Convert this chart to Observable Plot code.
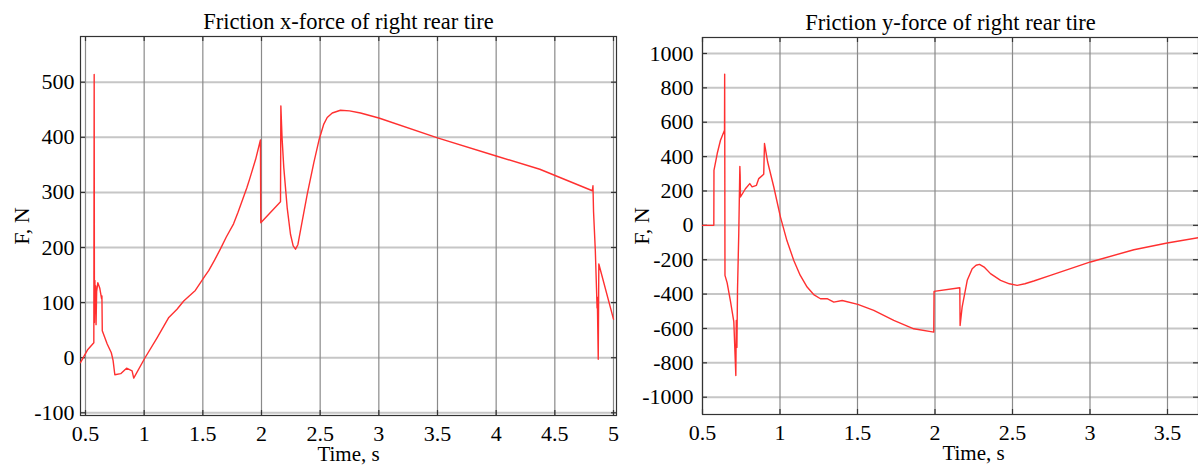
<!DOCTYPE html>
<html>
<head>
<meta charset="utf-8">
<script src="https://cdn.jsdelivr.net/npm/d3@7"></script>
<script src="https://cdn.jsdelivr.net/npm/@observablehq/plot@0.6"></script>
<style>
  html, body { margin: 0; padding: 0; background: #fff; }
  #wrap { position: relative; width: 1198px; height: 467px; overflow: hidden; }
  #left { position: absolute; left: 0; top: 0; }
  #right { position: absolute; left: 620px; top: 0; }
  svg { overflow: visible; }
  svg, svg text, svg g { font-family: "Liberation Serif", "Times New Roman", serif !important; font-variant: normal !important; font-variant-numeric: normal !important; }
</style>
</head>
<body>
<div id="wrap"><div id="left"></div><div id="right"></div></div>
<script>
// ---- Left panel: Friction x-force (time in s, force in N)
const leftTitle = "Friction x-force of right rear tire";
const leftTime = [0.457,0.52,0.571,0.574,0.576,0.58,0.583,0.587,0.59,0.595,0.605,0.622,0.637,0.64,0.643,0.685,0.72,0.735,0.75,0.80,0.85,0.897,0.911,1.005,1.11,1.21,1.28,1.337,1.436,1.52,1.55,1.6,1.649,1.7,1.762,1.8,1.876,1.9,1.95,1.991,1.994,2.162,2.165,2.175,2.19,2.219,2.247,2.27,2.29,2.31,2.347,2.39,2.446,2.49,2.531,2.56,2.603,2.673,2.75,2.844,3.0,3.5,4.0,4.372,4.82,4.825,4.83,4.845,4.855,4.86,4.862,4.87,4.875,5.0];
const leftForce = [-9,15,27,514,64,140,80,130,60,120,136,126,107,112,49,25,9,-5,-31,-29,-19,-24,-37,-1,36,73,88,103,122,149,158,177,197,219,243,264,309,325,360,395,245,283,457,400,345,272,224,203,197,205,248,297,354,395,424,436,444,449,448,444,435,399,366,342,303,312,265,195,127,90,110,-3,170,70];
const leftXTicks = [0.5,1,1.5,2,2.5,3,3.5,4,4.5,5];
const leftYTicks = [-100,0,100,200,300,400,500];

// ---- Right panel: Friction y-force
const rightTitle = "Friction y-force of right rear tire";
const rightTime = [0.5,0.573,0.574,0.595,0.616,0.642,0.643,0.645,0.659,0.68,0.702,0.715,0.718,0.722,0.726,0.734,0.741,0.743,0.745,0.777,0.805,0.82,0.848,0.863,0.895,0.9,0.905,0.92,0.96,1.003,1.045,1.089,1.13,1.175,1.22,1.261,1.304,1.347,1.401,1.502,1.605,1.734,1.863,1.992,1.994,2.16,2.162,2.175,2.208,2.24,2.265,2.287,2.32,2.358,2.423,2.48,2.53,2.58,2.637,2.745,3.003,3.283,3.498,3.7];
const rightForce = [0,0,320,418,495,553,880,-291,-335,-440,-560,-874,-553,-710,-369,-48,343,290,165,213,243,224,233,272,297,476,450,370,223,48,-90,-204,-290,-359,-405,-427,-427,-447,-437,-460,-495,-553,-602,-621,-384,-363,-583,-476,-320,-252,-232,-227,-245,-281,-320,-340,-349,-340,-324,-291,-213,-142,-103,-72];
const rightXTicks = [0.5,1,1.5,2,2.5,3,3.5];
const rightYTicks = [-1000,-800,-600,-400,-200,0,200,400,600,800,1000];

const xLabel = "Time, s";
const yLabel = "F, N";

const font = "Liberation Serif, Times New Roman, serif";

function panel({time, force, title, xTicks, yTicks, xDomain, yDomain, width, mL, mR, mT, mB, yPad, yLabOff, xLabDx}) {
  const data = time.map((t, i) => ({t, f: force[i]}));
  const fh = 467 - mT - mB, fw = width - mL - mR;
  const tick = {stroke: "#333", strokeWidth: 1.2};
  return Plot.plot({
    width, height: 467,
    marginLeft: mL, marginRight: mR, marginTop: mT, marginBottom: mB,
    style: {fontFamily: font, fontSize: "22px", color: "#000", background: "transparent"},
    x: {domain: xDomain},
    y: {domain: yDomain},
    marks: [
      Plot.gridY(yTicks, {stroke: "#c6c6c6", strokeOpacity: 1, strokeWidth: 2}),
      Plot.gridX(xTicks, {stroke: "#8a8a8a", strokeOpacity: 1, strokeWidth: 1.2}),
      // small inward tick marks on all four sides of the frame
      Plot.ruleX(xTicks, {...tick, insetBottom: fh - 5}),
      Plot.ruleX(xTicks, {...tick, insetTop: fh - 5}),
      Plot.ruleY(yTicks, {...tick, insetRight: fw - 5}),
      Plot.ruleY(yTicks, {...tick, insetLeft: fw - 5}),
      Plot.frame({stroke: "#333", strokeWidth: 1.2}),
      Plot.line(data, {x: "t", y: "f", stroke: "#ff3030", strokeWidth: 1.4}),
      Plot.axisX(xTicks, {tickSize: 0, tickPadding: 10, tickFormat: d => String(d), fontSize: 22, label: null}),
      Plot.axisY(yTicks, {tickSize: 0, tickPadding: yPad, tickFormat: d => String(d), fontSize: 22, label: yLabel, labelAnchor: "center", labelOffset: yLabOff, labelArrow: "none"}),
      Plot.text([xLabel], {frameAnchor: "bottom", lineAnchor: "middle", dy: 39, dx: xLabDx, fontSize: 21, fill: "#000"}),
      Plot.text([title], {frameAnchor: "top", lineAnchor: "middle", dy: -15, fontSize: 22.5, fill: "#000"})
    ]
  });
}

document.getElementById("left").append(panel({
  time: leftTime, force: leftForce, title: leftTitle,
  xTicks: leftXTicks, yTicks: leftYTicks,
  xDomain: [0.4574, 5.0256], yDomain: [-104.9, 582.9],
  width: 620, mL: 80, mR: 4, mT: 36, mB: 52, yPad: 6, yLabOff: 67, xLabDx: 0
}));

document.getElementById("right").append(panel({
  time: rightTime, force: rightForce, title: rightTitle,
  xTicks: rightXTicks, yTicks: rightYTicks,
  xDomain: [0.5, 3.7], yDomain: [-1100.6, 1093],
  width: 578, mL: 82, mR: 0, mT: 37, mB: 53, yPad: 9, yLabOff: 69, xLabDx: 23
}));
</script>
</body>
</html>
